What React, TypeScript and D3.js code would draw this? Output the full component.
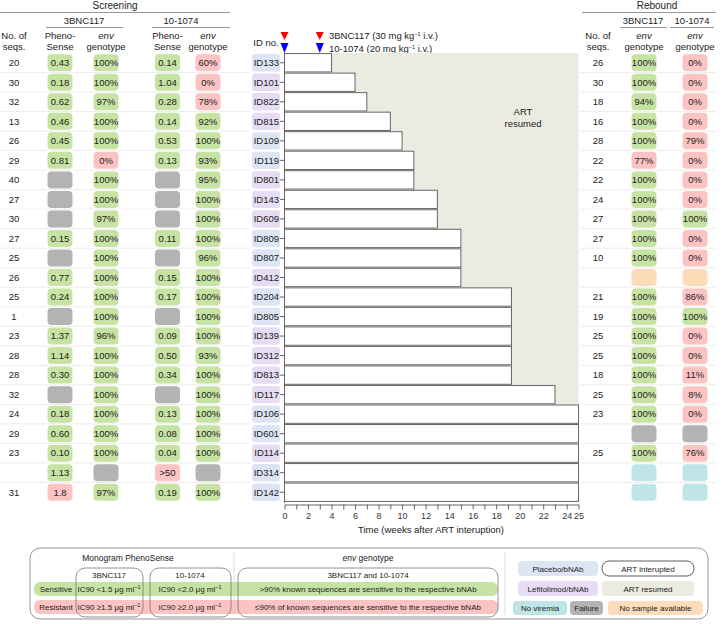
import { useEffect, useRef } from "react";
import * as d3 from "d3";

// participants, top to bottom
const ids = ["ID133", "ID101", "ID822", "ID815", "ID109", "ID119", "ID801", "ID143", "ID609", "ID809", "ID807", "ID412",
  "ID204", "ID805", "ID139", "ID312", "ID813", "ID117", "ID106", "ID601", "ID114", "ID314", "ID142"];
// P = placebo/bNAb, L = lefitolimod/bNAb
const arms = ["P", "L", "L", "L", "P", "P", "L", "L", "L", "P", "P", "L", "P", "P", "L", "L", "L", "L", "P", "P", "L", "P", "P"];
// weeks until ART was resumed (25 = end of follow-up)
const weeksOff = [4, 6, 7, 9, 10, 11, 11, 13, 13, 15, 15, 15, 19.3, 19.3, 19.3, 19.3, 19.3, 23, 25, 25, 25, 25, 25];

// screening ("" = no number, "F" = failure)
const scrSeqs = ["20", "30", "32", "13", "26", "29", "40", "27", "30", "27", "25", "26", "25", "1", "23", "28", "28", "32", "24", "29", "23", "", "31"];
const scrPheno3 = ["0.43", "0.18", "0.62", "0.46", "0.45", "0.81", "F", "F", "F", "0.15", "F", "0.77", "0.24", "F", "1.37", "1.14", "0.30", "F", "0.18", "0.60", "0.10", "1.13", "1.8"];
const scrEnv3 = ["100", "100", "97", "100", "100", "0", "100", "100", "97", "100", "100", "100", "100", "100", "96", "100", "100", "100", "100", "100", "100", "F", "97"];
const scrPheno10 = ["0.14", "1.04", "0.28", "0.14", "0.53", "0.13", "F", "F", "F", "0.11", "F", "0.15", "0.17", "F", "0.09", "0.50", "0.34", "F", "0.13", "0.08", "0.04", ">50", "0.19"];
const scrEnv10 = ["60", "0", "78", "92", "100", "93", "95", "100", "100", "100", "96", "100", "100", "100", "100", "93", "100", "100", "100", "100", "100", "F", "100"];

// rebound ("NS" = no sample, "NV" = no viremia, "F" = failure)
const rebSeqs = ["26", "30", "18", "16", "28", "22", "22", "24", "27", "27", "10", "", "21", "19", "25", "25", "18", "25", "23", "", "25", "", ""];
const rebEnv3 = ["100", "100", "94", "100", "100", "77", "100", "100", "100", "100", "100", "NS", "100", "100", "100", "100", "100", "100", "100", "F", "100", "NV", "NV"];
const rebEnv10 = ["0", "0", "0", "0", "79", "0", "0", "0", "100", "0", "0", "NS", "86", "100", "0", "0", "11", "8", "0", "F", "76", "NV", "NV"];

const xTicks = d3.range(0, 26);
const xTickLabels = [0, 2, 4, 6, 8, 10, 12, 14, 16, 18, 20, 22, 24, 25];

const C = {
  green: "#c7e3a3",
  red: "#fcc3c3",
  gray: "#b3b3b3",
  cyan: "#bfe5e9",
  orange: "#fddcb9",
  blue: "#dde5f4",
  purple: "#e7dcf3",
  beige: "#ecebe1",
  text: "#222",
};
const FONT = "'Liberation Sans', Arial, sans-serif";

function cellColor(v: string, cutoff: number | null) {
  if (v === "F") return C.gray;
  if (v === "NS") return C.orange;
  if (v === "NV") return C.cyan;
  if (v.startsWith(">")) return C.red;
  const n = parseFloat(v);
  if (cutoff === null) return n > 90 ? C.green : C.red; // env genotype
  return n < cutoff ? C.green : C.red; // PhenoSense IC90
}

function Pill({ cx, cy, v, cutoff, pct }: { cx: number; cy: number; v: string; cutoff: number | null; pct?: boolean }) {
  const label = ["F", "NS", "NV"].includes(v) ? "" : pct ? v + "%" : v;
  return (
    <g>
      <rect x={cx - 12.5} y={cy - 8.5} width={25} height={17} rx={4} fill={cellColor(v, cutoff)} />
      <text x={cx} y={cy + 3.3} textAnchor="middle" fontSize={9.5} fill={C.text}>{label}</text>
    </g>
  );
}

function Unit() {
  return (
    <>
      {" \u03bcg ml"}
      <tspan dy={-3} fontSize={5.5}>{"\u22121"}</tspan>
    </>
  );
}

export default function App() {
  const axisRef = useRef<SVGGElement>(null);

  const x = d3.scaleLinear().domain([0, 25]).range([284.5, 578.5]);
  const y = d3.scaleBand<string>().domain(ids).range([53, 502]);
  const rh = y.bandwidth();
  const cy = (id: string) => (y(id) as number) + rh / 2;

  useEffect(() => {
    const g = d3.select(axisRef.current);
    g.selectAll("*").remove();
    g.call(
      d3.axisBottom(x).tickValues(xTicks).tickSize(5).tickSizeOuter(0)
        .tickFormat((d) => (xTickLabels.includes(+d) ? String(d) : ""))
    );
    g.select(".domain").attr("stroke", "#666");
    g.selectAll(".tick line").attr("stroke", "#666");
    g.selectAll(".tick text").attr("font-size", 9).attr("fill", "#333").attr("font-family", FONT);
  }, []);

  const colX = { seq: 14, p3: 60, e3: 106, p10: 167.5, e10: 208, rSeq: 598, r3: 644, r10: 695 };

  return (
    <svg width={722} height={624} style={{ position: "absolute", left: 0, top: 0, display: "block" }} fontFamily={FONT}>
      {/* header: screening */}
      <text x={115} y={9} textAnchor="middle" fontSize={10} fill={C.text}>Screening</text>
      <line x1={0} x2={230} y1={12.5} y2={12.5} stroke="#999" />
      <text x={84} y={24} textAnchor="middle" fontSize={9.5} fill={C.text}>3BNC117</text>
      <line x1={46} x2={123} y1={27.5} y2={27.5} stroke="#999" />
      <text x={181} y={24} textAnchor="middle" fontSize={9.5} fill={C.text}>10-1074</text>
      <line x1={152} x2={230} y1={27.5} y2={27.5} stroke="#999" />
      {[colX.seq, colX.rSeq].map((cx) => (
        <g key={cx}>
          <text x={cx} y={38.5} textAnchor="middle" fontSize={9.5} fill={C.text}>No. of</text>
          <text x={cx} y={49.5} textAnchor="middle" fontSize={9.5} fill={C.text}>seqs.</text>
        </g>
      ))}
      {[colX.p3, colX.p10].map((cx) => (
        <g key={cx}>
          <text x={cx} y={38.5} textAnchor="middle" fontSize={9.5} fill={C.text}>Pheno-</text>
          <text x={cx} y={49.5} textAnchor="middle" fontSize={9.5} fill={C.text}>Sense</text>
        </g>
      ))}
      {[colX.e3, colX.e10, colX.r3, colX.r10].map((cx) => (
        <g key={cx}>
          <text x={cx} y={38.5} textAnchor="middle" fontSize={9.5} fontStyle="italic" fill={C.text}>env</text>
          <text x={cx} y={49.5} textAnchor="middle" fontSize={9.5} fill={C.text}>genotype</text>
        </g>
      ))}

      {/* header: rebound */}
      <text x={657} y={9} textAnchor="middle" fontSize={10} fill={C.text}>Rebound</text>
      <line x1={582} x2={716} y1={12.5} y2={12.5} stroke="#999" />
      <text x={643} y={24} textAnchor="middle" fontSize={9.5} fill={C.text}>3BNC117</text>
      <line x1={620} x2={667} y1={27.5} y2={27.5} stroke="#999" />
      <text x={692} y={24} textAnchor="middle" fontSize={9.5} fill={C.text}>10-1074</text>
      <line x1={670} x2={714} y1={27.5} y2={27.5} stroke="#999" />

      {/* dosing */}
      <text x={266} y={46} textAnchor="middle" fontSize={9.5} fill={C.text}>ID no.</text>
      {[0, 3].map((w) => (
        <g key={w}>
          <path d={`M${x(w) - 4},32 L${x(w) + 4},32 L${x(w)},40 Z`} fill="#f00" />
          <path d={`M${x(w) - 4},43 L${x(w) + 4},43 L${x(w)},53 Z`} fill="#00f" />
        </g>
      ))}
      <text x={329} y={38.5} fontSize={9.5} fill={C.text}>
        3BNC117 (30 mg kg<tspan dy={-3} fontSize={5.5}>{"\u22121"}</tspan><tspan dy={3}> i.v.)</tspan>
      </text>
      <text x={329} y={51.5} fontSize={9.5} fill={C.text}>
        10-1074 (20 mg kg<tspan dy={-3} fontSize={5.5}>{"\u22121"}</tspan><tspan dy={3}> i.v.)</tspan>
      </text>

      {/* row separators */}
      {ids.slice(0, -1).map((id) => (
        <g key={id}>
          <line x1={0} x2={250} y1={(y(id) as number) + rh} y2={(y(id) as number) + rh} stroke="#e8e8e8" strokeWidth={0.8} />
          <line x1={580} x2={716} y1={(y(id) as number) + rh} y2={(y(id) as number) + rh} stroke="#e8e8e8" strokeWidth={0.8} />
        </g>
      ))}

      {/* ART resumed area */}
      {ids.map((id, i) =>
        weeksOff[i] < 25 ? (
          <rect key={id} x={x(weeksOff[i])} y={y(id)} width={x(25) - x(weeksOff[i])} height={rh + 0.5} fill={C.beige} />
        ) : null
      )}
      <text x={523} y={115} textAnchor="middle" fontSize={9.5} fill={C.text}>ART</text>
      <text x={523} y={127} textAnchor="middle" fontSize={9.5} fill={C.text}>resumed</text>

      {/* ART interrupted bars */}
      {ids.map((id, i) => (
        <rect key={id} x={x(0)} y={(y(id) as number) + 0.6} width={x(weeksOff[i]) - x(0)} height={rh - 1.2}
          fill="#fff" stroke="#666" strokeWidth={1} />
      ))}
      <line x1={x(0)} x2={x(0)} y1={53} y2={503} stroke="#666" />

      {/* ID labels */}
      {ids.map((id, i) => (
        <g key={id}>
          <rect x={252} y={cy(id) - 8.7} width={28} height={17.4} rx={3} fill={arms[i] === "P" ? C.blue : C.purple} />
          <text x={279} y={cy(id) + 3.3} textAnchor="end" fontSize={9.5} fill={C.text}>{id}</text>
          <line x1={280} x2={284.5} y1={cy(id)} y2={cy(id)} stroke="#666" />
        </g>
      ))}

      {/* x axis */}
      <g ref={axisRef} transform={`translate(0,504.5)`} />
      <text x={431} y={533} textAnchor="middle" fontSize={9.5} fill={C.text}>Time (weeks after ART interuption)</text>

      {/* table cells */}
      {ids.map((id, i) => (
        <g key={id}>
          <text x={colX.seq} y={cy(id) + 3.3} textAnchor="middle" fontSize={9.5} fill={C.text}>{scrSeqs[i]}</text>
          <Pill cx={colX.p3} cy={cy(id)} v={scrPheno3[i]} cutoff={1.5} />
          <Pill cx={colX.e3} cy={cy(id)} v={scrEnv3[i]} cutoff={null} pct />
          <Pill cx={colX.p10} cy={cy(id)} v={scrPheno10[i]} cutoff={2.0} />
          <Pill cx={colX.e10} cy={cy(id)} v={scrEnv10[i]} cutoff={null} pct />
          <text x={colX.rSeq} y={cy(id) + 3.3} textAnchor="middle" fontSize={9.5} fill={C.text}>{rebSeqs[i]}</text>
          <Pill cx={colX.r3} cy={cy(id)} v={rebEnv3[i]} cutoff={null} pct />
          <Pill cx={colX.r10} cy={cy(id)} v={rebEnv10[i]} cutoff={null} pct />
        </g>
      ))}

      {/* legend */}
      <g fontSize={8} fill={C.text}>
        <rect x={30} y={548} width={678} height={71} rx={10} fill="none" stroke="#999" />
        <line x1={234} x2={234} y1={552} y2={615} stroke="#ddd" />
        <line x1={505} x2={505} y1={552} y2={615} stroke="#ddd" />
        <text x={128} y={561} textAnchor="middle" fontSize={8.5}>Monogram PhenoSense</text>
        <text x={368} y={561} textAnchor="middle" fontSize={8.5}><tspan fontStyle="italic">env</tspan> genotype</text>

        <rect x={34} y={582} width={464} height={14} rx={6} fill={C.green} />
        <rect x={34} y={600} width={464} height={14} rx={6} fill={C.red} />
        <rect x={76} y={568} width={67} height={49} rx={9} fill="none" stroke="#777" strokeWidth={0.8} />
        <rect x={150} y={568} width={81} height={49} rx={9} fill="none" stroke="#777" strokeWidth={0.8} />
        <rect x={238} y={568} width={260} height={49} rx={9} fill="none" stroke="#777" strokeWidth={0.8} />
        <text x={109} y={578} textAnchor="middle">3BNC117</text>
        <text x={190} y={578} textAnchor="middle">10-1074</text>
        <text x={368} y={578} textAnchor="middle">3BNC117 and 10-1074</text>

        <text x={56} y={592} textAnchor="middle">Sensitive</text>
        <text x={109} y={592} textAnchor="middle">IC90 &lt;1.5<Unit /></text>
        <text x={190} y={592} textAnchor="middle">IC90 &lt;2.0<Unit /></text>
        <text x={368} y={592} textAnchor="middle">&gt;90% known sequences are sensitive to the respective bNAb</text>
        <text x={56} y={610} textAnchor="middle">Resistant</text>
        <text x={109} y={610} textAnchor="middle">IC90 {"\u2265"}1.5<Unit /></text>
        <text x={190} y={610} textAnchor="middle">IC90 {"\u2265"}2.0<Unit /></text>
        <text x={368} y={610} textAnchor="middle">{"\u2264"}90% of known sequences are sensitive to the respective bNAb</text>

        <rect x={518} y={561} width={80} height={15} rx={4} fill={C.blue} />
        <text x={558} y={571.5} textAnchor="middle">Placebo/bNAb</text>
        <rect x={518} y={581} width={80} height={15} rx={4} fill={C.purple} />
        <text x={558} y={591.5} textAnchor="middle">Lefitolimod/bNAb</text>
        <rect x={602} y={561} width={92} height={15} rx={7} fill="#fff" stroke="#333" strokeWidth={0.8} />
        <text x={648} y={571.5} textAnchor="middle">ART interupted</text>
        <rect x={602} y={581} width={92} height={15} rx={4} fill={C.beige} />
        <text x={648} y={591.5} textAnchor="middle">ART resumed</text>
        <rect x={513} y={601} width={54} height={14} rx={4} fill={C.cyan} />
        <text x={540} y={611} textAnchor="middle">No viremia</text>
        <rect x={570} y={601} width={33} height={14} rx={4} fill={C.gray} />
        <text x={586.5} y={611} textAnchor="middle">Failure</text>
        <rect x={608} y={601} width={95} height={14} rx={4} fill={C.orange} />
        <text x={655.5} y={611} textAnchor="middle">No sample available</text>
      </g>
    </svg>
  );
}
